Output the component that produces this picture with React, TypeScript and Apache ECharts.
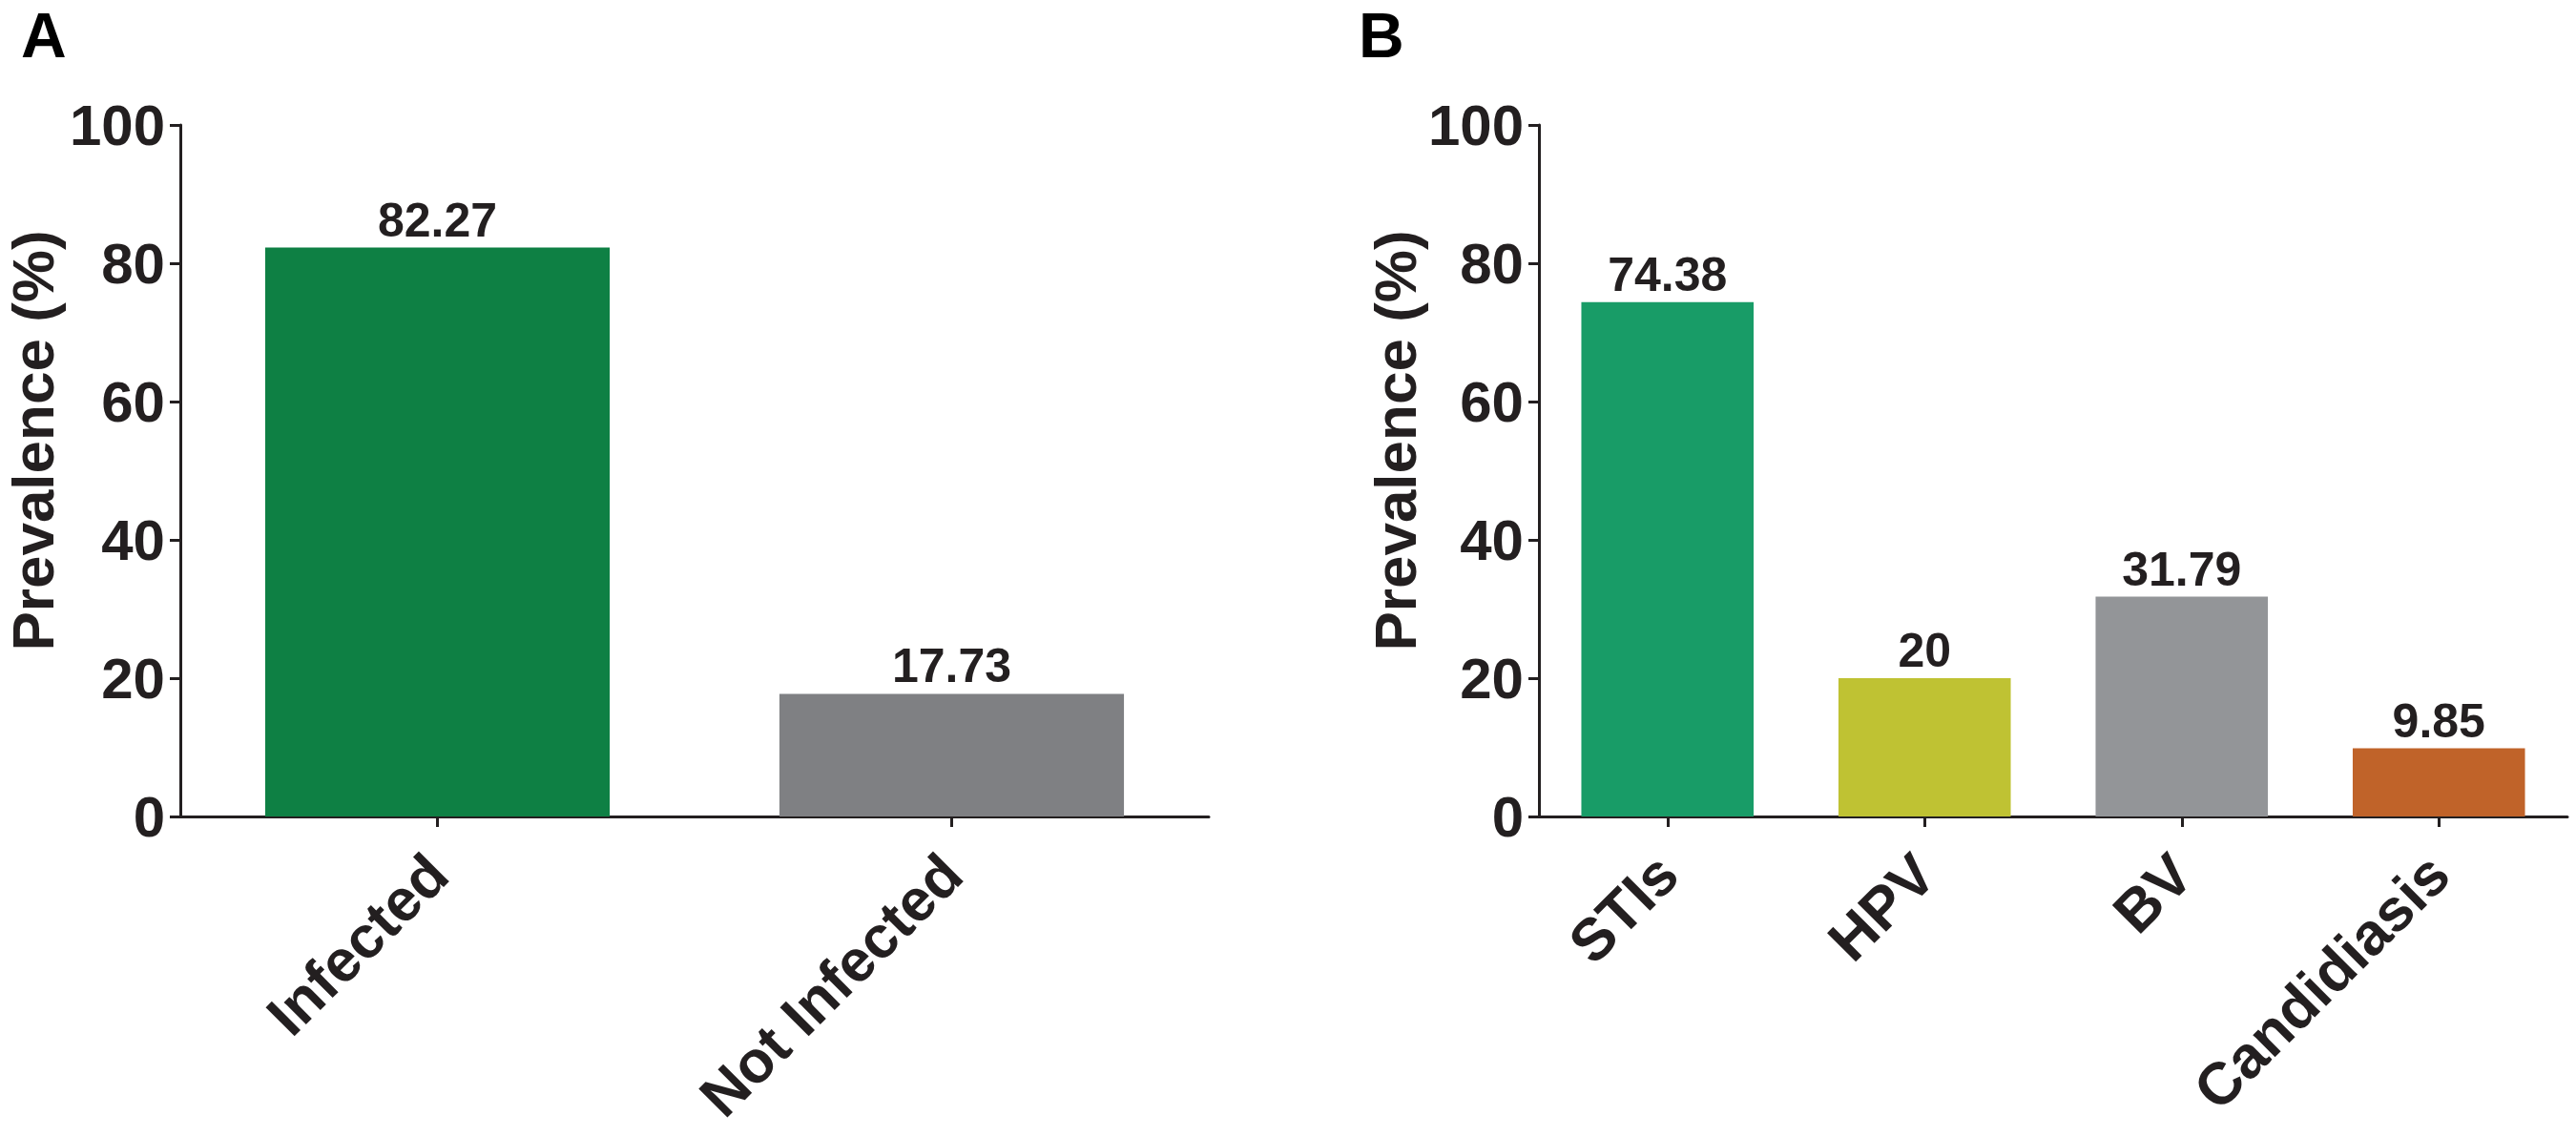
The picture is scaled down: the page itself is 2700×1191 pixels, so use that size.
import { useEffect, useRef } from "react";
import * as echarts from "echarts";

const categoriesA = ["Infected", "Not Infected"];
const valuesA = [82.27, 17.73];
const categoriesB = ["STIs", "HPV", "BV", "Candidiasis"];
const valuesB = [74.38, 20, 31.79, 9.85];
const yMin = 0;
const yMax = 100;
const yStep = 20;
const yTitle = "Prevalence (%)";
const panelLetters = ["A", "B"];

const colorsA = ["#0E8044", "#7F8083"];
const colorsB = ["#189C67", "#BFC233", "#939598", "#C06329"];

const INK = "#231F20";
const FONT = "'Liberation Sans', Arial, Helvetica, sans-serif";

function yAxis(gridIndex: number) {
  return {
    type: "value",
    gridIndex,
    min: yMin,
    max: yMax,
    interval: yStep,
    axisLine: { show: true, lineStyle: { color: INK, width: 3 } },
    axisTick: { show: true, length: 11, lineStyle: { color: INK, width: 3 } },
    splitLine: { show: false },
    axisLabel: {
      color: INK,
      fontSize: 60,
      fontWeight: "bold",
      fontFamily: FONT,
      margin: 16,
    },
  };
}

function xAxis(gridIndex: number, cats: string[]) {
  return {
    type: "category",
    gridIndex,
    data: cats,
    axisLine: { show: true, lineStyle: { color: INK, width: 3 } },
    axisTick: {
      show: true,
      alignWithLabel: true,
      length: 11,
      lineStyle: { color: INK, width: 3 },
    },
    axisLabel: {
      rotate: 45,
      color: INK,
      fontSize: 62,
      fontWeight: "bold",
      fontFamily: FONT,
      margin: 50,
      interval: 0,
    },
  };
}

function barSeries(idx: number, values: number[], colors: string[]) {
  return {
    type: "bar",
    xAxisIndex: idx,
    yAxisIndex: idx,
    barCategoryGap: "33%",
    data: values.map((v, i) => ({ value: v, itemStyle: { color: colors[i] } })),
    label: {
      show: true,
      position: "top",
      distance: 4,
      color: INK,
      fontSize: 50,
      fontWeight: "bold",
      fontFamily: FONT,
      formatter: "{c}",
    },
  };
}

export default function App() {
  const ref = useRef<HTMLDivElement>(null);
  useEffect(() => {
    document.body.style.margin = "0";
    if (!ref.current) return;
    const chart = echarts.init(ref.current, null, { renderer: "svg" });
    const titleStyle = {
      text: yTitle,
      fill: INK,
      font: `bold 62px ${FONT}`,
      textAlign: "center",
      textVerticalAlign: "middle",
    };
    const letterStyle = (t: string) => ({
      text: t,
      fill: "#000",
      font: `bold 66px ${FONT}`,
      textVerticalAlign: "middle",
    });
    chart.setOption({
      animation: false,
      backgroundColor: "#ffffff",
      grid: [
        { left: 189, top: 131, width: 1078, height: 725 },
        { left: 1613, top: 131, width: 1078, height: 725 },
      ],
      xAxis: [xAxis(0, categoriesA), xAxis(1, categoriesB)],
      yAxis: [yAxis(0), yAxis(1)],
      series: [barSeries(0, valuesA, colorsA), barSeries(1, valuesB, colorsB)],
      graphic: [
        { type: "text", x: 22, y: 37, style: letterStyle(panelLetters[0]) },
        { type: "text", x: 1424, y: 37, style: letterStyle(panelLetters[1]) },
        { type: "text", x: 34, y: 462, rotation: Math.PI / 2, style: titleStyle },
        { type: "text", x: 1462, y: 462, rotation: Math.PI / 2, style: titleStyle },
      ],
    });
    return () => chart.dispose();
  }, []);
  return <div ref={ref} style={{ width: 2700, height: 1191 }} />;
}
